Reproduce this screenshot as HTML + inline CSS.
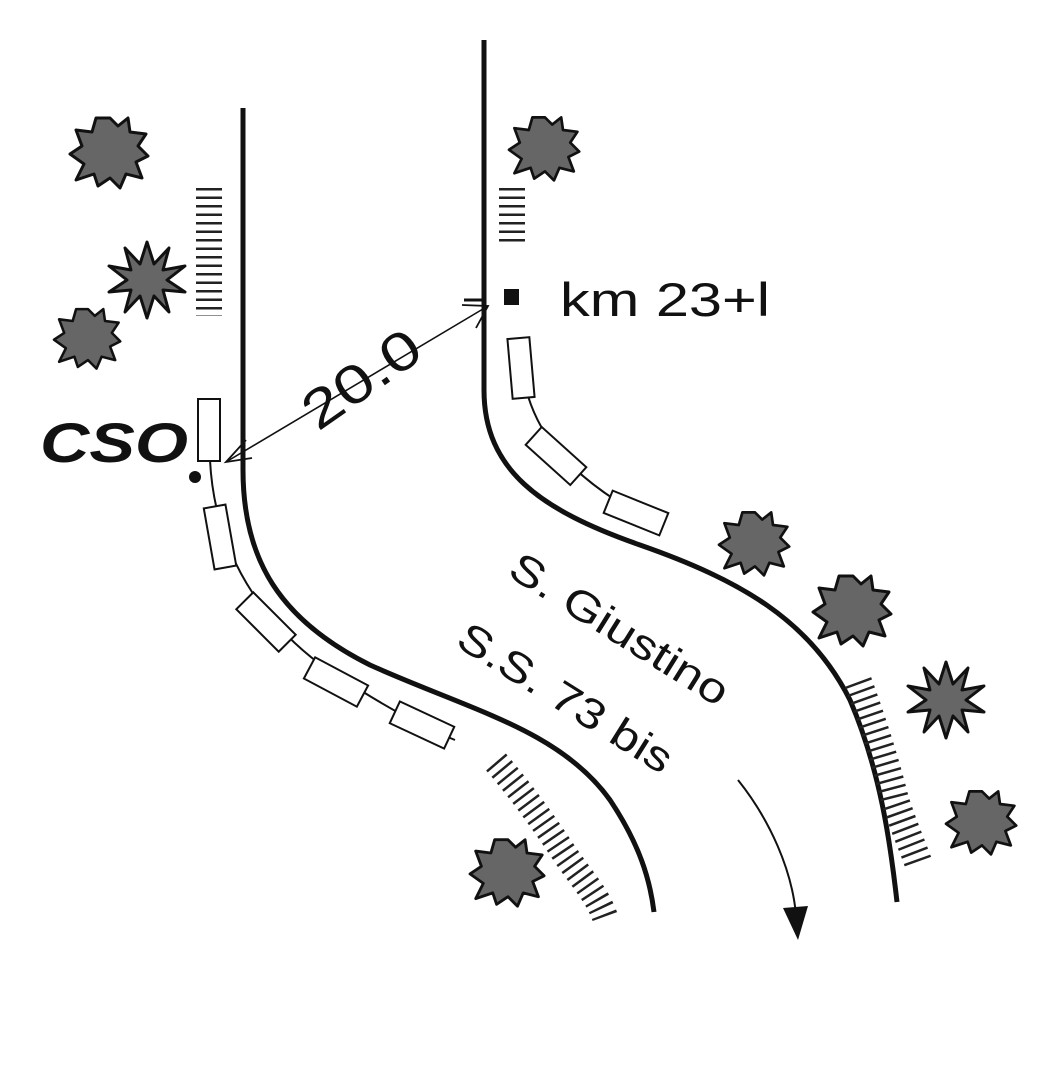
<!DOCTYPE html>
<html><head><meta charset="utf-8"><style>
html,body{margin:0;padding:0;background:#fff;}
svg{display:block;}
text{font-family:"Liberation Sans",Arial,sans-serif;fill:#111;}
</style></head><body>
<svg width="1060" height="1068" viewBox="0 0 1060 1068" xmlns="http://www.w3.org/2000/svg">
<defs>
  <g id="blob">
    <polygon points="0,-34 8,-26 18,-34 20,-20 36,-18 28,-6 38,4 26,10 32,26 16,22 10,36 0,26 -12,34 -16,22 -34,28 -26,12 -40,2 -28,-6 -34,-22 -18,-20 -14,-34" fill="#666" stroke="#111" stroke-width="3" stroke-linejoin="round"/>
  </g>
  <g id="star">
    <polygon points="0,-38 7,-16 22,-32 16,-10 38,-14 20,0 38,12 16,10 22,32 7,16 0,38 -7,16 -22,32 -16,10 -38,12 -20,0 -38,-14 -16,-10 -22,-32 -7,-16" fill="#666" stroke="#111" stroke-width="3" stroke-linejoin="round"/>
  </g>
</defs>

<!-- roads -->
<path d="M243,108 L243,470 C243,560 280,620 370,665 C470,710 560,730 610,800 C640,845 650,880 654,912" fill="none" stroke="#111" stroke-width="5"/>
<path d="M484,40 L484,390 C484,470 540,510 640,545 C740,580 810,620 850,700 C880,770 890,840 897,902" fill="none" stroke="#111" stroke-width="5"/>

<!-- car lines -->
<path d="M210,460 C215,560 270,640 360,690 C400,715 430,730 455,740" fill="none" stroke="#111" stroke-width="2"/>
<path d="M520,340 C520,420 560,470 640,515" fill="none" stroke="#111" stroke-width="2"/>

<!-- left cars -->
<rect x="198" y="399" width="22" height="62" fill="#fff" stroke="#111" stroke-width="2"/>
<rect x="-11" y="-31" width="22" height="62" fill="#fff" stroke="#111" stroke-width="2" transform="translate(220,537) rotate(-10)"/>
<rect x="-12" y="-30" width="24" height="60" fill="#fff" stroke="#111" stroke-width="2" transform="translate(266,622) rotate(-45)"/>
<rect x="-30" y="-12" width="60" height="24" fill="#fff" stroke="#111" stroke-width="2" transform="translate(336,682) rotate(28)"/>
<rect x="-30" y="-12" width="60" height="24" fill="#fff" stroke="#111" stroke-width="2" transform="translate(422,725) rotate(25)"/>
<!-- right cars -->
<rect x="-11" y="-30" width="22" height="60" fill="#fff" stroke="#111" stroke-width="2" transform="translate(521,368) rotate(-5)"/>
<rect x="-12" y="-30" width="24" height="60" fill="#fff" stroke="#111" stroke-width="2" transform="translate(556,456) rotate(-48)"/>
<rect x="-30" y="-12" width="60" height="24" fill="#fff" stroke="#111" stroke-width="2" transform="translate(636,513) rotate(22)"/>

<!-- dimension line -->
<line x1="226" y1="462" x2="488" y2="306" stroke="#111" stroke-width="1.6"/>
<polyline points="246,440 226,462 252,458" fill="none" stroke="#111" stroke-width="1.8"/>
<polyline points="462,305 488,306 476,328" fill="none" stroke="#111" stroke-width="1.8"/>
<line x1="464" y1="300" x2="484" y2="300" stroke="#111" stroke-width="3"/>
<text x="0" y="0" font-size="54" textLength="132" lengthAdjust="spacingAndGlyphs" transform="translate(318,432) rotate(-35)">20.0</text>

<!-- CSO -->
<text x="40" y="462" font-size="56" font-weight="bold" font-style="italic" textLength="148" lengthAdjust="spacingAndGlyphs">CSO</text>
<circle cx="195" cy="477" r="6" fill="#111"/>

<!-- km marker -->
<rect x="504" y="289" width="15" height="16" fill="#111"/>
<text x="560" y="316" font-size="47" textLength="210" lengthAdjust="spacingAndGlyphs">km 23+l</text>

<!-- road names -->
<text font-size="42" textLength="250" lengthAdjust="spacingAndGlyphs" transform="translate(506,575) rotate(32)">S. Giustino</text>
<text font-size="42" textLength="245" lengthAdjust="spacingAndGlyphs" transform="translate(454,645) rotate(32)">S.S. 73 bis</text>

<!-- direction arrow -->
<path d="M738,780 C770,820 792,870 796,915" fill="none" stroke="#111" stroke-width="2"/>
<polygon points="783,908 808,906 798,940" fill="#111"/>

<!-- hatching -->
<line x1="209" y1="188" x2="209" y2="316" stroke="#222" stroke-width="26" stroke-dasharray="2.5 6"/>
<line x1="512" y1="188" x2="512" y2="246" stroke="#222" stroke-width="26" stroke-dasharray="2.5 6"/>
<path d="M496,762 C520,790 542,820 562,850 C582,880 598,895 606,920" fill="none" stroke="#222" stroke-width="26" stroke-dasharray="2.5 6"/>
<path d="M858,682 C872,720 885,760 895,800 C905,830 912,845 918,862" fill="none" stroke="#222" stroke-width="28" stroke-dasharray="2.5 6"/>

<!-- trees -->
<use href="#blob" transform="translate(110,152)"/>
<use href="#star" transform="translate(147,280)"/>
<use href="#blob" transform="translate(88,338) scale(0.85)"/>
<use href="#blob" transform="translate(545,148) scale(0.9)"/>
<use href="#blob" transform="translate(755,543) scale(0.9)"/>
<use href="#blob" transform="translate(853,610)"/>
<use href="#star" transform="translate(946,700)"/>
<use href="#blob" transform="translate(982,822) scale(0.9)"/>
<use href="#blob" transform="translate(508,872) scale(0.95)"/>
</svg>
</body></html>
